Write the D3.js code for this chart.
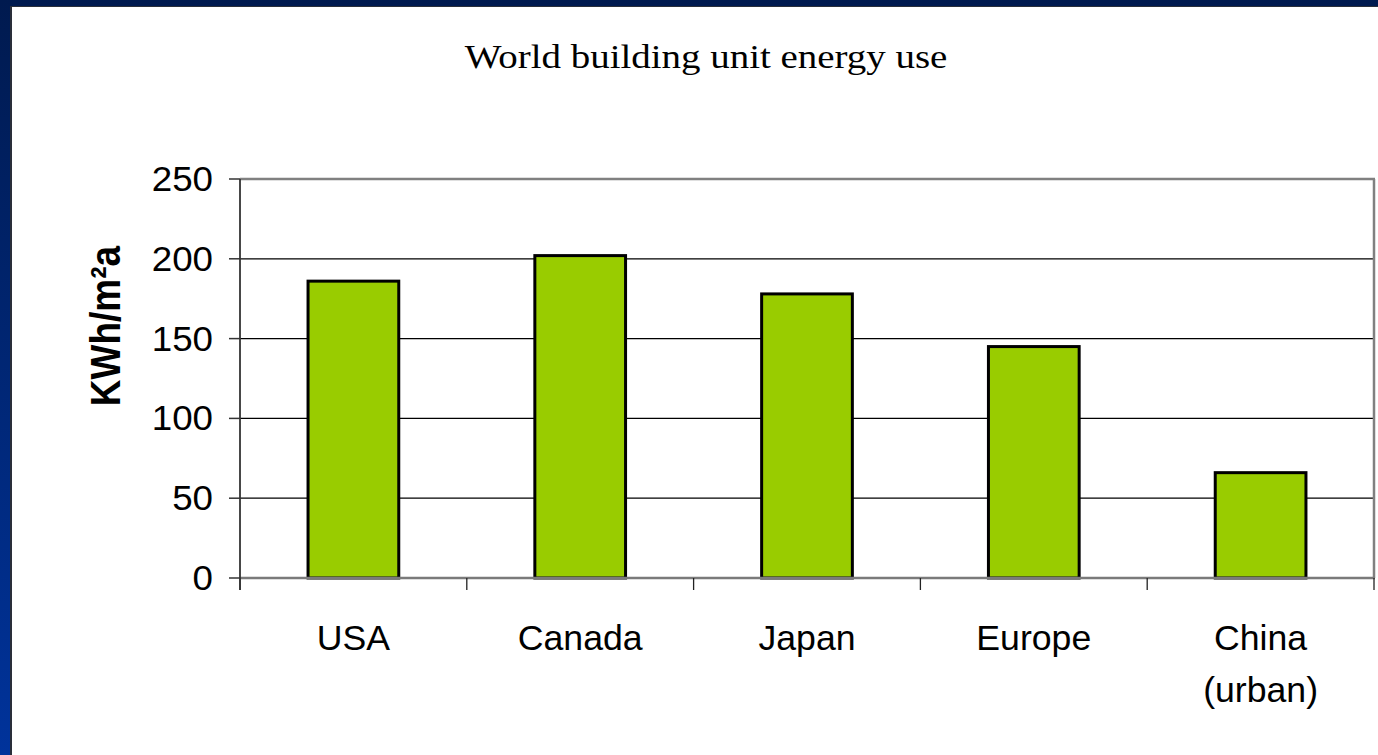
<!DOCTYPE html>
<html>
<head>
<meta charset="utf-8">
<script src="https://cdn.jsdelivr.net/npm/d3@7"></script>
<style>
  html, body { margin: 0; padding: 0; background: #fff; }
  svg { display: block; }
</style>
</head>
<body>
<svg id="chart" width="1378" height="755"></svg>
<script>
// Unit energy use of buildings by region (kWh per m² per year)
const categories = ["USA", "Canada", "Japan", "Europe", "China\n(urban)"];
const values = [186, 202, 178, 145, 66];
const yTicks = [0, 50, 100, 150, 200, 250];

const W = 1378, H = 755;
const svg = d3.select("#chart");

// slide background and frame
const defs = svg.append("defs");
const grad = defs.append("linearGradient").attr("id", "frame")
  .attr("x1", 0).attr("y1", 0).attr("x2", 0).attr("y2", 1);
grad.append("stop").attr("offset", "0%").attr("stop-color", "#001a4f");
grad.append("stop").attr("offset", "100%").attr("stop-color", "#00339b");
svg.append("rect").attr("width", W).attr("height", H).attr("fill", "url(#frame)");
svg.append("rect").attr("x", 10).attr("y", 6).attr("width", W - 10).attr("height", H - 6)
  .attr("fill", "#2a2f3a");
svg.append("rect").attr("x", 12).attr("y", 7).attr("width", W - 12).attr("height", H - 7)
  .attr("fill", "#ffffff");

const plot = { left: 240, right: 1374, top: 179, bottom: 578 };

const x = d3.scaleBand().domain(categories).range([plot.left, plot.right]).padding(0);
const y = d3.scaleLinear().domain([0, 250]).range([plot.bottom, plot.top]);

// title
svg.append("text")
  .attr("transform", "translate(706,68) scale(1.18,1)")
  .attr("text-anchor", "middle")
  .attr("font-family", "'Liberation Serif', 'Times New Roman', serif")
  .attr("font-size", 33)
  .attr("fill", "#000")
  .text("World building unit energy use");

// gridlines
svg.append("g").selectAll("line")
  .data(yTicks.filter(d => d > 0 && d < 250))
  .join("line")
  .attr("x1", plot.left).attr("x2", plot.right)
  .attr("y1", d => y(d)).attr("y2", d => y(d))
  .attr("stroke", "#000").attr("stroke-width", 1.2);

// plot frame top and right
svg.append("line").attr("x1", plot.left).attr("x2", plot.right + 1)
  .attr("y1", y(250)).attr("y2", y(250))
  .attr("stroke", "#808080").attr("stroke-width", 2.5);
svg.append("line").attr("x1", plot.right).attr("x2", plot.right)
  .attr("y1", y(250)).attr("y2", plot.bottom)
  .attr("stroke", "#808080").attr("stroke-width", 2.5);

// bars (gap width 150%)
const bw = x.bandwidth() * 0.4;
svg.append("g").selectAll("rect")
  .data(categories.map((c, i) => ({ c, v: values[i] })))
  .join("rect")
  .attr("x", d => x(d.c) + (x.bandwidth() - bw) / 2)
  .attr("y", d => y(d.v))
  .attr("width", bw)
  .attr("height", d => y(0) - y(d.v))
  .attr("fill", "#99cc00")
  .attr("stroke", "#000")
  .attr("stroke-width", 3);

// category axis
svg.append("line").attr("x1", plot.left).attr("x2", plot.right + 1)
  .attr("y1", plot.bottom).attr("y2", plot.bottom)
  .attr("stroke", "#7a7a7a").attr("stroke-width", 2.5);
const xTickPos = categories.map(c => x(c)).concat([plot.right]);
svg.append("g").selectAll("line")
  .data(xTickPos)
  .join("line")
  .attr("x1", d => d).attr("x2", d => d)
  .attr("y1", plot.bottom).attr("y2", plot.bottom + 12)
  .attr("stroke", "#222").attr("stroke-width", 1.3);

const xl = svg.append("g").selectAll("text")
  .data(categories)
  .join("text")
  .attr("transform", d => `translate(${x(d) + x.bandwidth() / 2},650) scale(0.99,1)`)
  .attr("text-anchor", "middle")
  .attr("font-family", "Arial, 'Liberation Sans', sans-serif")
  .attr("font-size", 36)
  .attr("fill", "#000");
xl.each(function (d) {
  const lines = d.split("\n");
  d3.select(this).selectAll("tspan").data(lines).join("tspan")
    .attr("x", 0).attr("dy", (l, i) => i === 0 ? 0 : 52)
    .text(l => l);
});

// value axis
svg.append("line").attr("x1", plot.left).attr("x2", plot.left)
  .attr("y1", plot.top).attr("y2", plot.bottom + 12)
  .attr("stroke", "#333").attr("stroke-width", 1.8);
svg.append("g").selectAll("line")
  .data(yTicks)
  .join("line")
  .attr("x1", plot.left - 11).attr("x2", plot.left)
  .attr("y1", d => y(d)).attr("y2", d => y(d))
  .attr("stroke", "#333").attr("stroke-width", 1.5);
svg.append("g").selectAll("text")
  .data(yTicks)
  .join("text")
  .attr("transform", d => `translate(213,${y(d) + 12}) scale(1.05,1)`)
  .attr("text-anchor", "end")
  .attr("font-family", "Arial, 'Liberation Sans', sans-serif")
  .attr("font-size", 35)
  .attr("fill", "#000")
  .text(d => d);

// value axis title
svg.append("text")
  .attr("transform", "translate(120,326) scale(1.15,1) rotate(-90)")
  .attr("text-anchor", "middle")
  .attr("font-family", "Arial, 'Liberation Sans', sans-serif")
  .attr("font-weight", "bold")
  .attr("font-size", 37)
  .attr("fill", "#000")
  .text("KWh/m²a");
</script>
</body>
</html>
